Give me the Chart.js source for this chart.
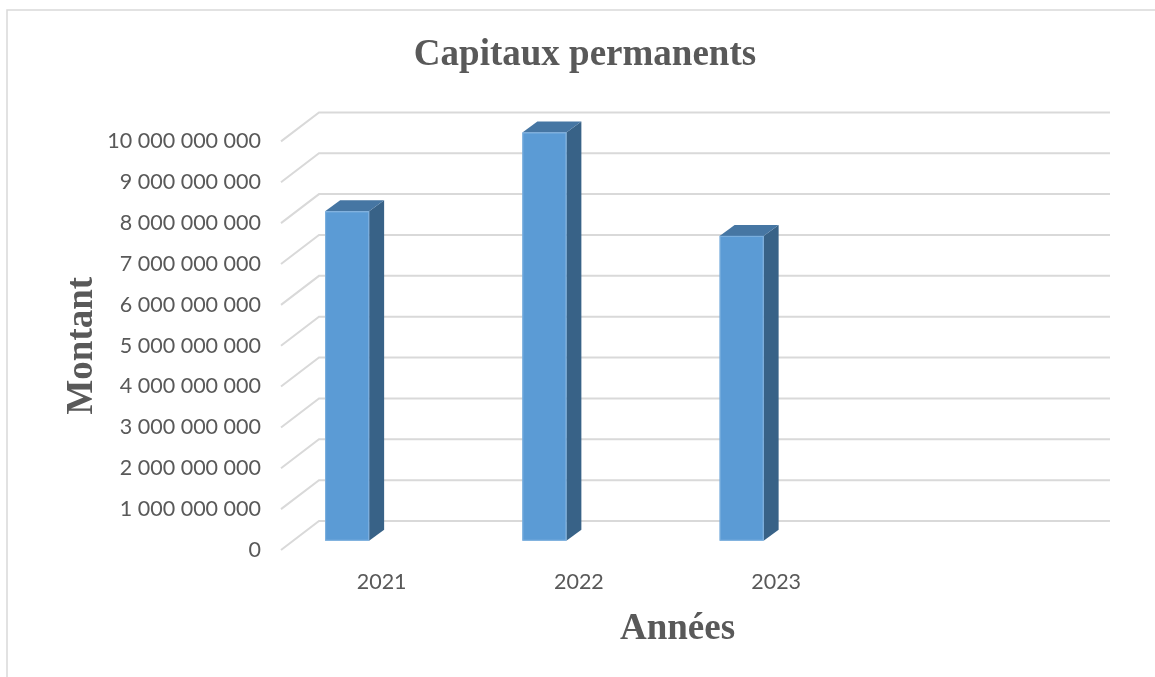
<!DOCTYPE html>
<html>
<head>
<meta charset="utf-8">
<script src="https://cdn.jsdelivr.net/npm/chart.js@4"></script>
<style>
  html, body { margin: 0; padding: 0; background: #ffffff; }
  #wrap { width: 1155px; height: 677px; }
</style>
</head>
<body>
<div id="wrap"><canvas id="myChart" width="1155" height="677"></canvas></div>
<script>
// data
var years = ['2021', '2022', '2023', ''];
var montants = [8060000000, 9990000000, 7460000000, null];
var yTicks = [0, 1000000000, 2000000000, 3000000000, 4000000000, 5000000000,
              6000000000, 7000000000, 8000000000, 9000000000, 10000000000];

var grey = '#595959';
var gridColor = '#d9d9d9';

// spaces as thousands separator, like "10 000 000 000"
function formatMontant(v) {
    return String(v).replace(/\B(?=(\d{3})+(?!\d))/g, ' ');
}

// fake 3D: back wall gridlines and prism bars
var depthX = 38, depthY = 29;        // floor depth (front -> back wall)
var barDx = -34.5, barDy = -9.3;     // bar plane vs front plane
var sideX = 15, sideY = 11;          // bar depth

var fake3d = {
    id: 'fake3d',
    beforeDraw: function(chart) {
        let c = chart.ctx;
        c.save();
        c.strokeStyle = gridColor;
        c.lineWidth = 1.5;
        c.beginPath();
        c.moveTo(7, 677);
        c.lineTo(7, 10);
        c.lineTo(1155, 10);
        c.stroke();
        c.restore();
    },
    beforeDatasetsDraw: function(chart) {
        let c = chart.ctx;
        let area = chart.chartArea;
        let y = chart.scales.y;
        c.save();
        c.strokeStyle = gridColor;
        c.lineWidth = 2;
        for (let v of yTicks) {
            let py = y.getPixelForValue(v);
            c.beginPath();
            c.moveTo(area.left - 2, py);
            c.lineTo(area.left - 2 + depthX, py - depthY);
            c.lineTo(area.right + depthX, py - depthY);
            c.stroke();
        }
        c.restore();
    },
    afterDatasetsDraw: function(chart) {
        let c = chart.ctx;
        let meta = chart.getDatasetMeta(0);
        c.save();
        meta.data.forEach(function(bar, i) {
            if (montants[i] == null) return;
            let p = bar.getProps(['x', 'y', 'base', 'width'], true);
            let xl = p.x - p.width / 2 + barDx;
            let xr = xl + p.width;
            let yt = p.y + barDy;
            let yb = p.base + barDy;
            // side
            c.fillStyle = '#386287';
            c.beginPath();
            c.moveTo(xr, yt);
            c.lineTo(xr + sideX, yt - sideY);
            c.lineTo(xr + sideX, yb - sideY);
            c.lineTo(xr, yb);
            c.closePath();
            c.fill();
            // top
            c.fillStyle = '#4676a3';
            c.beginPath();
            c.moveTo(xl, yt);
            c.lineTo(xr, yt);
            c.lineTo(xr + sideX, yt - sideY);
            c.lineTo(xl + sideX, yt - sideY);
            c.closePath();
            c.fill();
            // front
            c.fillStyle = '#5b9bd5';
            c.fillRect(xl, yt, p.width, yb - yt);
            c.strokeStyle = '#7fb1df';
            c.lineWidth = 1;
            c.strokeRect(xl + 0.5, yt + 0.5, p.width - 1, yb - yt - 1);
        });
        c.restore();
    }
};

var ctx = document.getElementById('myChart');

var myChart = new Chart(ctx, {
    type: 'bar',
    data: {
        labels: years,
        datasets: [{
            label: 'Montant',
            data: montants,
            backgroundColor: 'rgba(0,0,0,0)',
            barThickness: 44
        }]
    },
    options: {
        responsive: false,
        animation: false,
        events: [],
        layout: { padding: { left: 15, right: 0, top: 0, bottom: 0 } },
        plugins: {
            legend: { display: false },
            tooltip: { enabled: false },
            title: {
                display: true,
                text: 'Capitaux permanents',
                color: grey,
                font: { family: 'Liberation Serif', weight: 'bold', size: 37 },
                padding: { top: 33, bottom: 64 }
            }
        },
        scales: {
            x: {
                offset: true,
                grid: { display: false, drawTicks: false },
                border: { display: false },
                ticks: {
                    color: grey,
                    font: { family: 'Lato', size: 21.5 },
                    padding: 19,
                    maxRotation: 0
                },
                title: {
                    display: true,
                    text: 'Années',
                    color: grey,
                    font: { family: 'Liberation Serif', weight: 'bold', size: 37 },
                    padding: { top: 0, bottom: 25 }
                },
                afterFit: function(scale) { scale.height = 127; }
            },
            y: {
                min: 0,
                max: 10000000000,
                grid: { display: false, drawTicks: false },
                border: { display: false },
                ticks: {
                    stepSize: 1000000000,
                    color: grey,
                    font: { family: 'Lato', size: 21.5 },
                    padding: 22,
                    callback: function(value) { return formatMontant(value); }
                },
                title: {
                    display: true,
                    text: 'Montant',
                    color: grey,
                    font: { family: 'Liberation Serif', weight: 'bold', size: 37 },
                    padding: { top: 45, bottom: 0 }
                },
                afterFit: function(scale) { scale.width = 268; }
            },
            // empty right axis, only keeps room for the back wall
            yRight: {
                position: 'right',
                display: true,
                grid: { display: false, drawTicks: false },
                border: { display: false },
                ticks: { display: false },
                afterFit: function(scale) { scale.width = 83; }
            }
        }
    },
    plugins: [fake3d]
});
</script>
</body>
</html>
